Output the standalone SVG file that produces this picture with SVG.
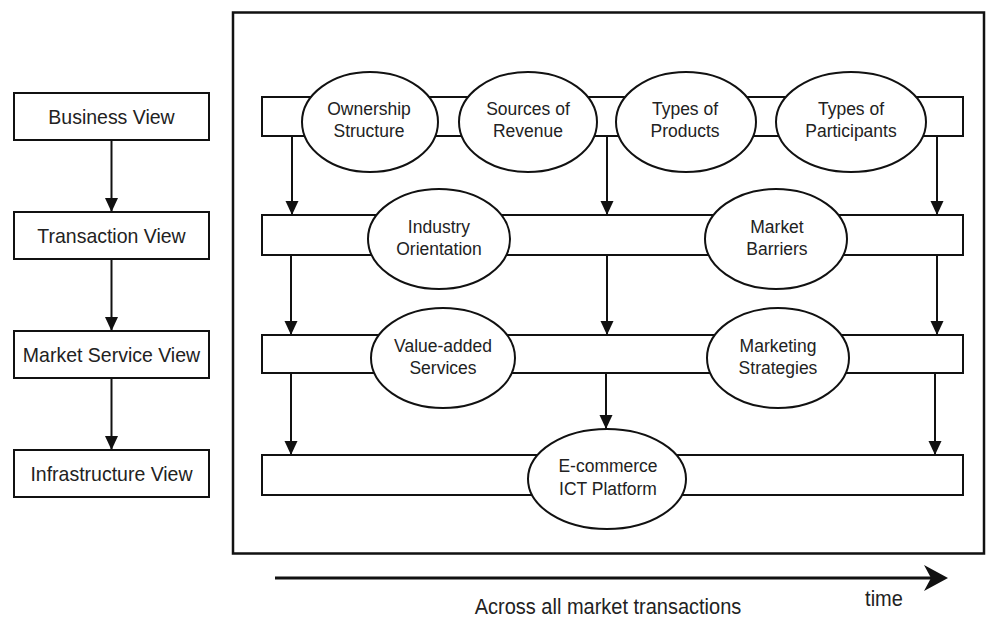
<svg xmlns="http://www.w3.org/2000/svg" width="988" height="617" viewBox="0 0 988 617">
<style>
  .box { fill: #fff; stroke: #111; stroke-width: 2; }
  .frame { fill: none; stroke: #111; stroke-width: 2.5; }
  .ell { fill: #fff; stroke: #111; stroke-width: 2; }
  .lbl { font-family: "Liberation Sans", Arial, sans-serif; font-size: 19.5px; fill: #222; text-anchor: middle; }
  .el { font-family: "Liberation Sans", Arial, sans-serif; font-size: 17.5px; fill: #222; text-anchor: middle; }
  .cap { font-family: "Liberation Sans", Arial, sans-serif; font-size: 20px; fill: #222; text-anchor: middle; }
  .arr { fill: none; stroke: #111; stroke-width: 2; marker-end: url(#head); }
</style>
<defs>
  <marker id="head" viewBox="0 0 14 14" refX="14" refY="7" markerWidth="14" markerHeight="14" markerUnits="userSpaceOnUse" orient="auto">
    <path d="M0,0.5 L14,7 L0,13.5 z" fill="#111"/>
  </marker>
</defs>
<rect width="988" height="617" fill="#fff"/>

<!-- left column of views -->
<g id="business-view"><rect class="box" x="14" y="93" width="195" height="47"/><text class="lbl" x="111.5" y="0" transform="translate(0,124) scale(1,1.08)">Business View</text></g>
<g id="transaction-view"><rect class="box" x="14" y="212" width="195" height="47"/><text class="lbl" x="111.5" y="0" transform="translate(0,243) scale(1,1.08)">Transaction View</text></g>
<g id="market-service-view"><rect class="box" x="14" y="331" width="195" height="47"/><text class="lbl" x="111.5" y="0" transform="translate(0,362) scale(1,1.08)">Market Service View</text></g>
<g id="infrastructure-view"><rect class="box" x="14" y="450" width="195" height="47"/><text class="lbl" x="111.5" y="0" transform="translate(0,481) scale(1,1.08)">Infrastructure View</text></g>

<!-- frame -->
<g id="frame"><rect class="frame" x="233" y="12.5" width="751" height="541"/></g>

<!-- row bars -->
<g id="bar-business"><rect class="box" x="262" y="97" width="701" height="39"/></g>
<g id="bar-transaction"><rect class="box" x="262" y="215" width="701" height="40"/></g>
<g id="bar-market-service"><rect class="box" x="262" y="335" width="701" height="38"/></g>
<g id="bar-infrastructure"><rect class="box" x="262" y="455" width="701" height="40"/></g>

<!-- row 1 ellipses -->
<g id="ownership-structure"><ellipse class="ell" cx="370" cy="122" rx="68" ry="50"/><text class="el" x="369" y="0" transform="translate(0,115) scale(1,1.08)">Ownership</text><text class="el" x="369" y="0" transform="translate(0,137) scale(1,1.08)">Structure</text></g>
<g id="sources-of-revenue"><ellipse class="ell" cx="528" cy="122" rx="69" ry="50"/><text class="el" x="528" y="0" transform="translate(0,115) scale(1,1.08)">Sources of</text><text class="el" x="528" y="0" transform="translate(0,137) scale(1,1.08)">Revenue</text></g>
<g id="types-of-products"><ellipse class="ell" cx="686" cy="122" rx="70" ry="50"/><text class="el" x="685" y="0" transform="translate(0,115) scale(1,1.08)">Types of</text><text class="el" x="685" y="0" transform="translate(0,137) scale(1,1.08)">Products</text></g>
<g id="types-of-participants"><ellipse class="ell" cx="851" cy="122" rx="75" ry="50"/><text class="el" x="851" y="0" transform="translate(0,115) scale(1,1.08)">Types of</text><text class="el" x="851" y="0" transform="translate(0,137) scale(1,1.08)">Participants</text></g>

<!-- row 2 ellipses -->
<g id="industry-orientation"><ellipse class="ell" cx="439" cy="239" rx="71" ry="50"/><text class="el" x="439" y="0" transform="translate(0,233) scale(1,1.08)">Industry</text><text class="el" x="439" y="0" transform="translate(0,255) scale(1,1.08)">Orientation</text></g>
<g id="market-barriers"><ellipse class="ell" cx="776" cy="239" rx="71" ry="50"/><text class="el" x="777" y="0" transform="translate(0,233) scale(1,1.08)">Market</text><text class="el" x="777" y="0" transform="translate(0,255) scale(1,1.08)">Barriers</text></g>

<!-- row 3 ellipses -->
<g id="value-added-services"><ellipse class="ell" cx="443" cy="358" rx="72" ry="50"/><text class="el" x="443" y="0" transform="translate(0,352) scale(1,1.08)">Value-added</text><text class="el" x="443" y="0" transform="translate(0,374) scale(1,1.08)">Services</text></g>
<g id="marketing-strategies"><ellipse class="ell" cx="778" cy="358" rx="71" ry="50"/><text class="el" x="778" y="0" transform="translate(0,352) scale(1,1.08)">Marketing</text><text class="el" x="778" y="0" transform="translate(0,374) scale(1,1.08)">Strategies</text></g>

<!-- row 4 ellipse -->
<g id="ecommerce-ict-platform"><ellipse class="ell" cx="607" cy="479" rx="79" ry="50"/><text class="el" x="608" y="0" transform="translate(0,472) scale(1,1.08)">E-commerce</text><text class="el" x="608" y="0" transform="translate(0,495) scale(1,1.08)">ICT Platform</text></g>

<!-- connectors -->
<g id="connectors">
  <line class="arr" x1="111.5" y1="140" x2="111.5" y2="212"/>
  <line class="arr" x1="111.5" y1="259" x2="111.5" y2="331"/>
  <line class="arr" x1="111.5" y1="378" x2="111.5" y2="450"/>

  <line class="arr" x1="292" y1="136" x2="292" y2="215"/>
  <line class="arr" x1="607" y1="136" x2="607" y2="215"/>
  <line class="arr" x1="937" y1="136" x2="937" y2="215"/>

  <line class="arr" x1="291" y1="255" x2="291" y2="335"/>
  <line class="arr" x1="607" y1="255" x2="607" y2="335"/>
  <line class="arr" x1="937" y1="255" x2="937" y2="335"/>

  <line class="arr" x1="291" y1="373" x2="291" y2="455"/>
  <line class="arr" x1="606" y1="373" x2="606" y2="429"/>
  <line class="arr" x1="935" y1="373" x2="935" y2="455"/>

  <g id="time-arrow">
    <line x1="275" y1="578" x2="935" y2="578" stroke="#111" stroke-width="3"/>
    <path d="M948,578 L924,565 L931,578 L924,591 z" fill="#111"/>
  </g>
</g>

<text class="cap" x="884" y="0" transform="translate(0,606) scale(1,1.08)">time</text>
<text class="cap" x="608" y="0" transform="translate(0,614) scale(1,1.08)">Across all market transactions</text>
</svg>
